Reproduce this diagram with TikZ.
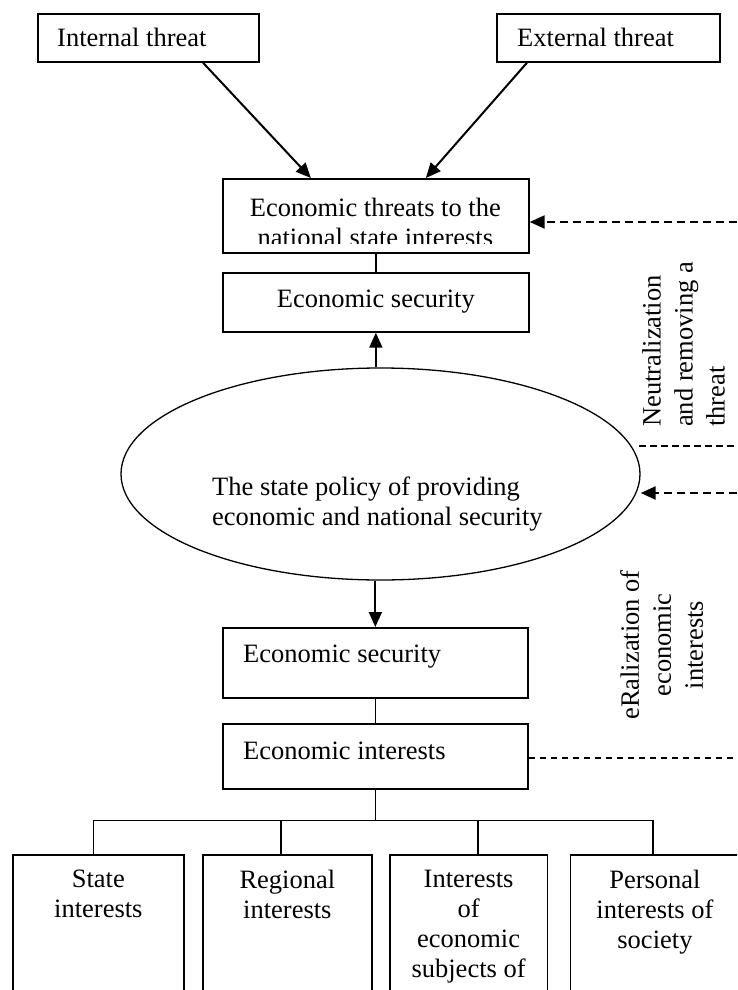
\documentclass[tikz,border=0pt]{standalone}
\usepackage{fontspec}
\setmainfont{Liberation Serif}
\usetikzlibrary{shapes.geometric,arrows.meta,positioning,calc}
\tikzset{
  box/.style={draw,line width=1.7pt,inner sep=0pt,anchor=north west},
  oval/.style={draw,ellipse,line width=1.3pt,inner sep=0pt},
  txt/.style={inner sep=0pt},
  vtxt/.style={txt,rotate=90,font=\fontsize{26.5}{32}\selectfont},
  link/.style={line width=1.5pt},
  arrow/.style={-{Triangle[length=15pt,width=13pt]},line width=2pt},
  dasharrow/.style={arrow,line width=2.2pt,dash pattern=on 8pt off 5pt},
  dashline/.style={line width=1.2pt,dash pattern=on 6.5pt off 4.5pt},
}

\begin{document}
\begin{tikzpicture}[x=1pt,y=-1pt,font=\fontsize{26.5}{30}\selectfont]
  \clip (0,0) rectangle (737,990);
  % threats
  \node[box,minimum width=221,minimum height=48] (intT) at (37,13) {};
  \node[txt,anchor=base west] at ($(intT.north west)+(20,34)$) {Internal threat};
  \node[box,minimum width=223,minimum height=48] (extT) at (496,13) {};
  \node[txt,anchor=base west] at ($(extT.north west)+(21,34)$) {External threat};
  \node[box,minimum width=306,minimum height=74] (thr) at (222,178) {};
  \begin{scope}
    \clip (thr.north west) rectangle ($(thr.south east)+(0,-10.5)$);
    \node[txt,anchor=north,align=center] at ($(thr.north)+(-0.5,19.5)$) {Economic threats to the\\national state interests};
  \end{scope}
  \draw[arrow] ($(intT.south west)+(166,0)$) -- ($(thr.north)+(-65,0)$);
  \draw[arrow] ($(extT.south west)+(31,0)$) -- ($(thr.north)+(50,0)$);
  \node[box,minimum width=306,minimum height=59] (sec1) at (222,272) {};
  \node[txt,anchor=base] at ($(sec1.north)+(0,35)$) {Economic security};
  \draw[link] (thr.south) -- (sec1.north);
  % policy
  \node[oval,minimum width=519,minimum height=212] (pol) at (380.5,474) {};
  \node[txt,anchor=north west,align=left] at ($(pol.center)+(-168.5,3)$) {The state policy of providing\\economic and national security};
  \draw[arrow] (pol.north -| sec1.south) -- (sec1.south);
  % interests
  \node[box,minimum width=305,minimum height=70] (sec2) at (222,627) {};
  \node[txt,anchor=base west] at ($(sec2.north west)+(21,35)$) {Economic security};
  \draw[arrow] (pol.south -| sec2.north) -- (sec2.north);
  \node[box,minimum width=305,minimum height=65] (intr) at (222,723) {};
  \node[txt,anchor=base west] at ($(intr.north west)+(21,36.5)$) {Economic interests};
  \draw[link] (sec2.south) -- (intr.north);
  \node[box,minimum width=171,minimum height=150] (s1) at (12,854) {};
  \node[box,minimum width=169,minimum height=150] (s2) at (202,854) {};
  \node[box,minimum width=157.5,minimum height=150] (s3) at (389,854) {};
  \node[box,minimum width=169,minimum height=150] (s4) at (569.6,854) {};
  \node[txt,anchor=north,align=center] at ($(s1.north)+(0,16)$) {State\\interests};
  \node[txt,anchor=north,align=center] at ($(s2.north)+(0,16)$) {Regional\\interests};
  \node[txt,anchor=north,align=center] at ($(s3.north)+(0,16)$) {Interests\\of\\economic\\subjects of};
  \node[txt,anchor=north,align=center] at ($(s4.north)+(0,16)$) {Personal\\interests of\\society};
  \coordinate (bus) at ($(intr.south)+(0,31)$);
  \draw[link] (intr.south) -- (bus);
  \foreach \b/\d in {s1/-4.9,s2/-6.5,s3/9.2,s4/-2}
    \draw[link] ($(\b.north)+(\d,0)$) |- (bus);
  % feedback
  \coordinate (r1) at (737,222);
  \coordinate (r2) at (737,493);
  \coordinate (r3) at (639,446);
  \coordinate (r4) at (737,758);
  \draw[dasharrow] (r1) -- (r1 -| thr.east);
  \draw[dashline] (r3) -- (r3 -| r1);
  \draw[dasharrow] (r2) -- (r2 -| pol.east);
  \draw[dashline] (r4 -| intr.east) -- (r4);
  \node[vtxt,anchor=north west,align=left] at (642,427) {Neutralization\\and removing a\\threat};
  \node[vtxt,anchor=north,align=center] at (620,645) {eRalization of\\economic\\interests};
\end{tikzpicture}
\end{document}
